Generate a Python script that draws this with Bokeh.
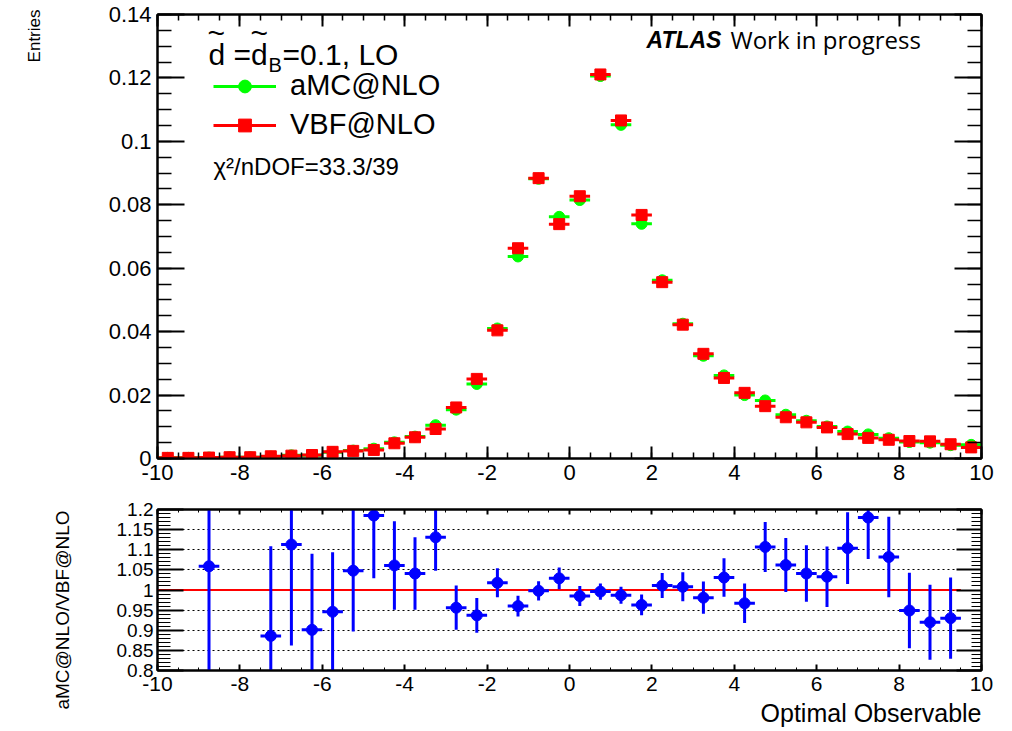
import math
from bokeh.plotting import figure
from bokeh.layouts import column, row
from bokeh.models import (FixedTicker, PrintfTickFormatter, LinearAxis, Label, Title,
                          Legend, LegendItem, ColumnDataSource, Range1d)
from bokeh.embed import file_html
from bokeh.resources import INLINE

# ---------------- data ----------------
bin_centers = [-9.75, -9.25, -8.75, -8.25, -7.75, -7.25, -6.75, -6.25, -5.75, -5.25,
               -4.75, -4.25, -3.75, -3.25, -2.75, -2.25, -1.75, -1.25, -0.75, -0.25,
               0.25, 0.75, 1.25, 1.75, 2.25, 2.75, 3.25, 3.75, 4.25, 4.75,
               5.25, 5.75, 6.25, 6.75, 7.25, 7.75, 8.25, 8.75, 9.25, 9.75]
bin_half_width = 0.25

vbf_nlo = [0.0002, 0.0002, 0.0003, 0.0004, 0.0004, 0.0007, 0.0009, 0.0011, 0.0021, 0.0024,
           0.0027, 0.0048, 0.0067, 0.0093, 0.0161, 0.0251, 0.0404, 0.0663, 0.0884, 0.0739,
           0.0827, 0.1211, 0.1066, 0.0768, 0.0556, 0.0422, 0.0330, 0.0254, 0.0207, 0.0165,
           0.0130, 0.0114, 0.0098, 0.0077, 0.0065, 0.0059, 0.0055, 0.0054, 0.0045, 0.0035]

amc_nlo = [0.0002, 0.0002, 0.0003, 0.0004, 0.0004, 0.0006, 0.0010, 0.0010, 0.0020, 0.0025,
           0.0031, 0.0051, 0.0069, 0.0105, 0.0154, 0.0235, 0.0410, 0.0637, 0.0882, 0.0762,
           0.0815, 0.1206, 0.1052, 0.0740, 0.0562, 0.0425, 0.0324, 0.0262, 0.0200, 0.0183,
           0.0138, 0.0119, 0.0101, 0.0085, 0.0076, 0.0064, 0.0052, 0.0050, 0.0042, 0.0043]

ratio_x = [-8.75, -7.25, -6.75, -6.25, -5.75, -5.25, -4.75, -4.25, -3.75, -3.25,
           -2.75, -2.25, -1.75, -1.25, -0.75, -0.25, 0.25, 0.75, 1.25, 1.75,
           2.25, 2.75, 3.25, 3.75, 4.25, 4.75, 5.25, 5.75, 6.25, 6.75,
           7.25, 7.75, 8.25, 8.75, 9.25]
ratio_y = [1.059, 0.886, 1.113, 0.901, 0.946, 1.048, 1.185, 1.061, 1.041, 1.131,
           0.956, 0.937, 1.018, 0.960, 0.998, 1.029, 0.985, 0.996, 0.987, 0.963,
           1.011, 1.008, 0.981, 1.031, 0.967, 1.107, 1.062, 1.041, 1.033, 1.104,
           1.180, 1.082, 0.949, 0.920, 0.930]
ratio_err = [0.300, 0.223, 0.251, 0.189, 0.148, 0.151, 0.156, 0.110, 0.090, 0.083,
             0.055, 0.043, 0.036, 0.026, 0.024, 0.027, 0.025, 0.020, 0.021, 0.026,
             0.031, 0.036, 0.040, 0.048, 0.049, 0.062, 0.067, 0.070, 0.075, 0.089,
             0.103, 0.100, 0.094, 0.093, 0.101]

unity_x = [-10.0, 9.5]
unity_y = 1.0

x_major = [-10, -8, -6, -4, -2, 0, 2, 4, 6, 8, 10]
x_minor = [-10, -9.5, -9, -8.5, -8, -7.5, -7, -6.5, -6, -5.5, -5, -4.5, -4, -3.5, -3, -2.5,
           -2, -1.5, -1, -0.5, 0, 0.5, 1, 1.5, 2, 2.5, 3, 3.5, 4, 4.5, 5, 5.5, 6, 6.5,
           7, 7.5, 8, 8.5, 9, 9.5, 10]
y_top_major = [0, 0.02, 0.04, 0.06, 0.08, 0.1, 0.12, 0.14]
y_top_minor = [0, 0.005, 0.01, 0.015, 0.02, 0.025, 0.03, 0.035, 0.04, 0.045, 0.05, 0.055,
               0.06, 0.065, 0.07, 0.075, 0.08, 0.085, 0.09, 0.095, 0.1, 0.105, 0.11,
               0.115, 0.12, 0.125, 0.13, 0.135, 0.14]
y_rat_major = [0.8, 0.85, 0.9, 0.95, 1.0, 1.05, 1.1, 1.15, 1.2]
y_rat_minor = [0.80, 0.81, 0.82, 0.83, 0.84, 0.85, 0.86, 0.87, 0.88, 0.89, 0.90, 0.91,
               0.92, 0.93, 0.94, 0.95, 0.96, 0.97, 0.98, 0.99, 1.00, 1.01, 1.02, 1.03,
               1.04, 1.05, 1.06, 1.07, 1.08, 1.09, 1.10, 1.11, 1.12, 1.13, 1.14, 1.15,
               1.16, 1.17, 1.18, 1.19, 1.20]

FONT = "Liberation Sans"
GREEN = "#00ff00"
RED = "#ff0000"
BLUE = "#0000ff"

LEFT_W = 100          # width of the strip holding the rotated axis titles
TOTAL_H = 729


def style_axis(ax, major_in, minor_in, minor_w, show_labels=True, size="22px", standoff=6):
    ax.major_tick_in = major_in
    ax.major_tick_out = 0
    ax.minor_tick_in = minor_in
    ax.minor_tick_out = 0
    ax.axis_line_width = 2
    ax.axis_line_color = "black"
    ax.major_tick_line_width = 2
    ax.minor_tick_line_width = minor_w
    ax.major_tick_line_color = "black"
    ax.minor_tick_line_color = "black"
    if show_labels:
        ax.major_label_text_font = FONT
        ax.major_label_text_font_size = size
        ax.major_label_text_color = "black"
        ax.major_label_standoff = standoff
    else:
        ax.major_label_text_font_size = "0px"
        ax.major_label_text_color = None
        ax.major_label_standoff = 0


def make_label(fig, px, py, text, size, baseline="alphabetic", align="left", **kw):
    lab = Label(x=px, y=py, x_units="screen", y_units="screen", text=text,
                text_font=kw.pop("font", FONT), text_font_size=size,
                text_color="black", text_baseline=baseline,
                text_align=align, **kw)
    fig.add_layout(lab)
    return lab


# ---------------- strip for the rotated y titles ----------------
strip = figure(width=LEFT_W, height=TOTAL_H, x_range=Range1d(0, 1), y_range=Range1d(0, 1),
               output_backend="svg", toolbar_location=None,
               min_border_left=0, min_border_right=0, min_border_top=0, min_border_bottom=0)
strip.axis.visible = False
strip.grid.visible = False
strip.outline_line_color = None
strip.background_fill_color = "white"
strip.border_fill_color = "white"
make_label(strip, 34, TOTAL_H - 9, "Entries", "17px", baseline="middle", align="right",
           angle=math.pi / 2)
make_label(strip, 62, TOTAL_H - 510, "aMC@NLO/VBF@NLO", "19px", baseline="middle",
           align="right", angle=math.pi / 2)

# ---------------- top panel ----------------
p1 = figure(width=904, height=494, x_range=Range1d(-10, 10), y_range=Range1d(0, 0.14),
            output_backend="svg", toolbar_location=None,
            min_border_left=57, min_border_right=23, min_border_top=14, min_border_bottom=36)
p1.xgrid.visible = False
p1.ygrid.visible = False
p1.outline_line_color = "black"
p1.outline_line_width = 2
p1.background_fill_color = "white"
p1.border_fill_color = "white"

p1.xaxis.ticker = FixedTicker(ticks=x_major, minor_ticks=x_minor)
p1.xaxis.formatter = PrintfTickFormatter(format="%g")
style_axis(p1.xaxis[0], 12, 6, 1.5, size="22px", standoff=6)
p1.yaxis.ticker = FixedTicker(ticks=y_top_major, minor_ticks=y_top_minor)
p1.yaxis.formatter = PrintfTickFormatter(format="%g")
style_axis(p1.yaxis[0], 27, 14, 1.5, size="22px", standoff=6)

top_ax = LinearAxis(ticker=FixedTicker(ticks=x_major, minor_ticks=x_minor))
style_axis(top_ax, 12, 6, 1.5, show_labels=False)
p1.add_layout(top_ax, "above")
right_ax = LinearAxis(ticker=FixedTicker(ticks=y_top_major, minor_ticks=y_top_minor))
style_axis(right_ax, 27, 14, 1.5, show_labels=False)
p1.add_layout(right_ax, "right")

src_g = ColumnDataSource(dict(x=bin_centers, y=amc_nlo,
                              x0=[c - bin_half_width for c in bin_centers],
                              x1=[c + bin_half_width for c in bin_centers]))
src_r = ColumnDataSource(dict(x=bin_centers, y=vbf_nlo,
                              x0=[c - bin_half_width for c in bin_centers],
                              x1=[c + bin_half_width for c in bin_centers]))

g_seg = p1.segment(x0="x0", y0="y", x1="x1", y1="y", source=src_g, line_color=GREEN, line_width=3)
g_pts = p1.scatter(x="x", y="y", source=src_g, marker="circle", size=11,
                   fill_color=GREEN, line_color=GREEN)
r_seg = p1.segment(x0="x0", y0="y", x1="x1", y1="y", source=src_r, line_color=RED, line_width=3)
r_pts = p1.scatter(x="x", y="y", source=src_r, marker="square", size=11,
                   fill_color=RED, line_color=RED)

legend = Legend(items=[LegendItem(label="aMC@NLO", renderers=[g_seg, g_pts]),
                       LegendItem(label="VBF@NLO", renderers=[r_seg, r_pts])],
                location=(56, 317), glyph_width=63, glyph_height=32, label_height=32,
                spacing=6, label_standoff=14, padding=0, margin=0,
                background_fill_alpha=0, border_line_color=None,
                label_text_font=FONT, label_text_font_size="29px",
                label_text_color="black")
p1.add_layout(legend)

# title: d~ = d~_B = 0.1, LO
make_label(p1, 51, 404, "d =d", "30px")
make_label(p1, 50, 426, "~", "30px")
make_label(p1, 93, 426, "~", "30px")
make_label(p1, 111, 394, "B", "20px")
make_label(p1, 125, 404, "=0.1, LO", "30px")
make_label(p1, 56, 292, "\u03c7\u00b2/nDOF=33.3/39", "24px")
make_label(p1, 489, 419, "ATLAS", "23px", text_font_style="bold italic")
make_label(p1, 573, 419, "Work in progress", "24px", font="Open Sans")

# ---------------- ratio panel ----------------
p2 = figure(width=904, height=TOTAL_H - 494, x_range=p1.x_range, y_range=Range1d(0.8, 1.2),
            output_backend="svg", toolbar_location=None,
            min_border_left=57, min_border_right=23, min_border_top=15, min_border_bottom=58)
p2.xgrid.visible = False
p2.ygrid.grid_line_color = "black"
p2.ygrid.grid_line_dash = "2 3"
p2.ygrid.grid_line_width = 1
p2.outline_line_color = "black"
p2.outline_line_width = 2
p2.background_fill_color = "white"
p2.border_fill_color = "white"

p2.xaxis.ticker = FixedTicker(ticks=x_major, minor_ticks=x_minor)
p2.xaxis.formatter = PrintfTickFormatter(format="%g")
style_axis(p2.xaxis[0], 6, 3, 1, size="21px", standoff=6)
p2.yaxis.ticker = FixedTicker(ticks=y_rat_major, minor_ticks=y_rat_minor)
p2.yaxis.formatter = PrintfTickFormatter(format="%g")
style_axis(p2.yaxis[0], 26, 13, 1, size="19px", standoff=4)

top_ax2 = LinearAxis(ticker=FixedTicker(ticks=x_major, minor_ticks=x_minor))
style_axis(top_ax2, 5, 3, 1, show_labels=False)
p2.add_layout(top_ax2, "above")
right_ax2 = LinearAxis(ticker=FixedTicker(ticks=y_rat_major, minor_ticks=y_rat_minor))
style_axis(right_ax2, 25, 10, 1, show_labels=False)
p2.add_layout(right_ax2, "right")

p2.add_layout(Title(text="Optimal Observable", align="right", text_font=FONT,
                    text_font_size="25px", text_font_style="normal", text_color="black",
                    standoff=6), "below")

p2.segment(x0=[unity_x[0]], y0=[unity_y], x1=[unity_x[1]], y1=[unity_y],
           line_color=RED, line_width=2)

src_b = ColumnDataSource(dict(x=ratio_x, y=ratio_y,
                              x0=[c - bin_half_width for c in ratio_x],
                              x1=[c + bin_half_width for c in ratio_x],
                              ylo=[v - e for v, e in zip(ratio_y, ratio_err)],
                              yhi=[v + e for v, e in zip(ratio_y, ratio_err)]))
p2.segment(x0="x", y0="ylo", x1="x", y1="yhi", source=src_b, line_color=BLUE, line_width=3)
p2.segment(x0="x0", y0="y", x1="x1", y1="y", source=src_b, line_color=BLUE, line_width=3)
p2.scatter(x="x", y="y", source=src_b, marker="circle", size=11,
           fill_color=BLUE, line_color=BLUE)

layout = row(strip, column(p1, p2))
open("out.html", "w").write(file_html(layout, INLINE))
